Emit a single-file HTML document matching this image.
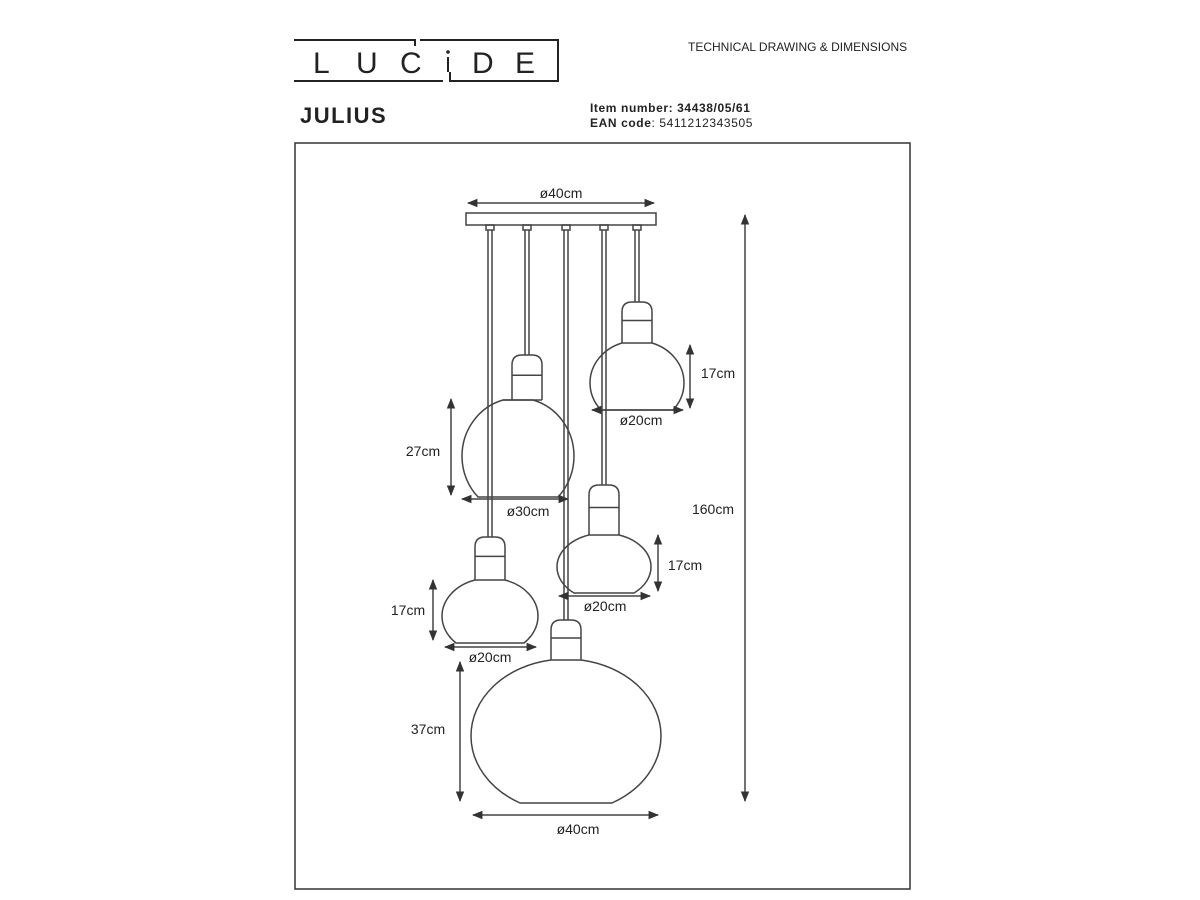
<!DOCTYPE html>
<html><head><meta charset="utf-8">
<style>
html,body{margin:0;padding:0;background:#fff;}
svg{display:block;}
text{font-family:"Liberation Sans",Arial,sans-serif;fill:#222;}
</style></head>
<body>
<svg id="s" width="1200" height="900" viewBox="0 0 1200 900" xmlns="http://www.w3.org/2000/svg">
<defs>
<marker id="a" viewBox="0 0 10 10" refX="9" refY="5" markerWidth="7" markerHeight="7" orient="auto-start-reverse"><path d="M0,1 L10,5 L0,9 z" fill="#333"/></marker>
</defs>
<g fill="none" stroke="#222" stroke-width="2">
<path d="M294,40 L415,40 L415,46 M420,40 L558,40 L558,81 L450,81 L450,72 M443,81 L294,81 Z"/>
</g>
<text x="313" y="73" font-size="30" style="fill:#222">L</text>
<text x="356" y="73" font-size="30" style="fill:#222">U</text>
<text x="400" y="73" font-size="30" style="fill:#222">C</text>
<circle cx="448" cy="52" r="1.8" fill="#222"/>
<line x1="448" y1="57" x2="448" y2="72" stroke="#222" stroke-width="2"/>
<text x="472" y="73" font-size="30" style="fill:#222">D</text>
<text x="515" y="73" font-size="30" style="fill:#222">E</text>
<text x="688" y="51" font-size="12">TECHNICAL DRAWING &amp; DIMENSIONS</text>
<text x="300" y="123" font-size="22" font-weight="bold" letter-spacing="1.5">JULIUS</text>
<text x="590" y="112" font-size="12" font-weight="bold" letter-spacing="0.6">Item number: 34438/05/61</text>
<text x="590" y="127" font-size="12" letter-spacing="0.6"><tspan font-weight="bold">EAN code</tspan>: 5411212343505</text>
<rect x="295" y="143" width="615" height="746" fill="none" stroke="#333" stroke-width="1.5"/>
<g id="d" fill="none" stroke="#444" stroke-width="1.5"></g>
<g font-size="14" text-anchor="middle">
<text x="561" y="198">ø40cm</text>
<text x="713" y="514">160cm</text>
<text x="718" y="378">17cm</text>
<text x="641" y="425">ø20cm</text>
<text x="423" y="456">27cm</text>
<text x="528" y="516">ø30cm</text>
<text x="685" y="570">17cm</text>
<text x="605" y="611">ø20cm</text>
<text x="408" y="615">17cm</text>
<text x="490" y="662">ø20cm</text>
<text x="428" y="734">37cm</text>
<text x="578" y="834">ø40cm</text>
</g>
</svg>
<script>
var g=document.getElementById('d'),o='';
function L(x1,y1,x2,y2,ar){o+='<line x1="'+x1+'" y1="'+y1+'" x2="'+x2+'" y2="'+y2+'"'+(ar?' marker-start="url(#a)" marker-end="url(#a)"':'')+'/>';}
o+='<rect x="466" y="213" width="190" height="12"/>';
[[490,537],[527,355],[566,620],[604,485],[637,302]].forEach(function(c){
 var x=c[0];o+='<rect x="'+(x-4)+'" y="225" width="8" height="5"/>';L(x-2,230,x-2,c[1]);L(x+2,230,x+2,c[1]);});
function P(hx,cx,top,bot,rx,bh,hh){
 var nh=15,ht=top-hh;
 o+='<path d="M'+(hx-nh)+','+top+' L'+(hx-nh)+','+(ht+10)+' Q'+(hx-nh)+','+ht+' '+(hx-5)+','+ht+' L'+(hx+5)+','+ht+' Q'+(hx+nh)+','+ht+' '+(hx+nh)+','+(ht+10)+' L'+(hx+nh)+','+top+'"/>';
 L(hx-nh,ht+hh*0.45,hx+nh,ht+hh*0.45);
 var u=1-(nh/rx)*(nh/rx),v=1-(bh/rx)*(bh/rx),su=Math.sqrt(u),sv=Math.sqrt(v);
 var cy=(top*sv+bot*su)/(su+sv),ry=(cy-top)/su;
 var A=' A'+rx+','+ry.toFixed(2)+' 0 0 0 ';
 o+='<path d="M'+(cx-nh)+','+top+A+(cx-rx)+','+cy.toFixed(2)+A+(cx-bh)+','+bot+' L'+(cx+bh)+','+bot+A+(cx+rx)+','+cy.toFixed(2)+A+(cx+nh)+','+top+' Z"/>';
 if(hx!=cx) L(Math.min(cx,hx)-nh,top,Math.max(cx,hx)+nh,top);
}
P(637,637,343,410,47,36,41);
P(527,518,400,497,56,40,45);
P(604,604,535,593,47,30,50);
P(490,490,580,643,48,34,43);
P(566,566,660,803,95,46,40);
L(468,203,654,203,1);L(745,215,745,801,1);
L(690,345,690,408,1);L(592,410,683,410,1);
L(451,399,451,495,1);L(462,499,568,499,1);
L(658,535,658,591,1);L(559,596,650,596,1);
L(433,580,433,640,1);L(445,647,536,647,1);
L(460,662,460,801,1);L(473,815,658,815,1);
g.innerHTML=o;
</script>
</body></html>
